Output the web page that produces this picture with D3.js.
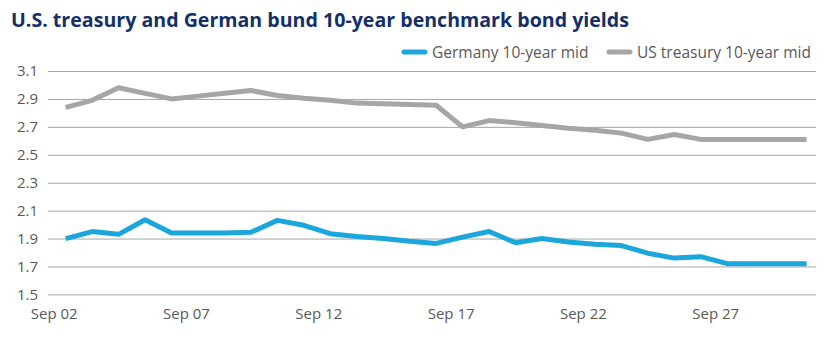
<!DOCTYPE html>
<html>
<head>
<meta charset="utf-8">
<script src="https://cdn.jsdelivr.net/npm/d3@7"></script>
<style>
  body { margin: 0; background: #fff; }
  svg { display: block; font-family: "Open Sans", "Noto Sans", sans-serif; }
</style>
</head>
<body>
<div id="chart"></div>
<script>
// daily labels, Sep 02 .. Sep 30
const days = d3.range(2, 31).map(d => "Sep " + String(d).padStart(2, "0"));

// 10-year mid yields (%)
const germany = [1.90, 1.95, 1.93, 2.035, 1.94, 1.94, 1.94, 1.945, 2.03, 1.995,
                 1.935, 1.915, 1.90, 1.88, 1.865, 1.91, 1.95, 1.87, 1.90, 1.875,
                 1.86, 1.85, 1.795, 1.76, 1.77, 1.72, 1.72, 1.72, 1.72];
const usTreasury = [2.84, 2.89, 2.98, 2.94, 2.90, 2.92, 2.94, 2.96, 2.925, 2.905,
                    2.89, 2.87, 2.865, 2.86, 2.855, 2.70, 2.745, 2.73, 2.71, 2.69,
                    2.675, 2.655, 2.61, 2.645, 2.61, 2.61, 2.61, 2.61, 2.61];

const yTicks = [1.5, 1.7, 1.9, 2.1, 2.3, 2.5, 2.7, 2.9, 3.1];
const xTickLabels = ["Sep 02", "Sep 07", "Sep 12", "Sep 17", "Sep 22", "Sep 27"];

const seriesList = [
  { name: "Germany 10-year mid", values: germany, color: "#1ba6dc" },
  { name: "US treasury 10-year mid", values: usTreasury, color: "#a6a6a6" }
];

const width = 832, height = 340;
const svg = d3.select("#chart").append("svg")
    .attr("width", width)
    .attr("height", height);

const x = d3.scalePoint()
    .domain(days)
    .range([65.7, 806.6]);

const y = d3.scaleLinear()
    .domain([1.5, 3.1])
    .range([294.4, 71]);

// title
svg.append("text")
    .attr("x", 11)
    .attr("y", 27)
    .attr("font-size", 19.6)
    .attr("font-weight", 700)
    .attr("fill", "#13306a")
    .text("U.S. treasury and German bund 10-year benchmark bond yields");

// gridlines + y labels
const yAxis = svg.append("g")
    .attr("transform", "translate(48,0)")
    .call(d3.axisLeft(y).tickValues(yTicks).tickFormat(d3.format(".1f"))
        .tickSize(-(816 - 48)).tickPadding(10));
yAxis.select(".domain").remove();
yAxis.selectAll(".tick line").attr("stroke", "#a6a6a6").attr("stroke-width", 1);
yAxis.selectAll(".tick text")
    .attr("font-size", 15)
    .attr("fill", "#595959")
    .attr("font-family", "Open Sans, sans-serif");

// x labels, every fifth day
const xAxis = svg.append("g")
    .attr("transform", "translate(0,302)")
    .call(d3.axisBottom(x).tickValues(xTickLabels).tickSize(0).tickPadding(6));
xAxis.select(".domain").remove();
xAxis.selectAll(".tick text")
    .attr("dx", -12)
    .attr("font-size", 15)
    .attr("fill", "#595959")
    .attr("font-family", "Open Sans, sans-serif");

// lines
const line = d3.line()
    .x((d, i) => x(days[i]))
    .y(d => y(d));

svg.selectAll("path.series")
    .data(seriesList)
    .join("path")
    .attr("class", "series")
    .attr("d", d => line(d.values))
    .attr("fill", "none")
    .attr("stroke", d => d.color)
    .attr("stroke-width", 5)
    .attr("stroke-linejoin", "round");

// legend
const legendPos = [402, 607];
const legend = svg.selectAll("g.legend")
    .data(seriesList)
    .join("g")
    .attr("class", "legend")
    .attr("transform", (d, i) => `translate(${legendPos[i]},52)`);
legend.append("line")
    .attr("x1", 2).attr("x2", 23)
    .attr("stroke", d => d.color)
    .attr("stroke-width", 5)
    .attr("stroke-linecap", "round");
legend.append("text")
    .attr("x", 30)
    .attr("y", 5.5)
    .attr("font-size", 15.5)
    .attr("fill", "#595959")
    .text(d => d.name);
</script>
</body>
</html>
